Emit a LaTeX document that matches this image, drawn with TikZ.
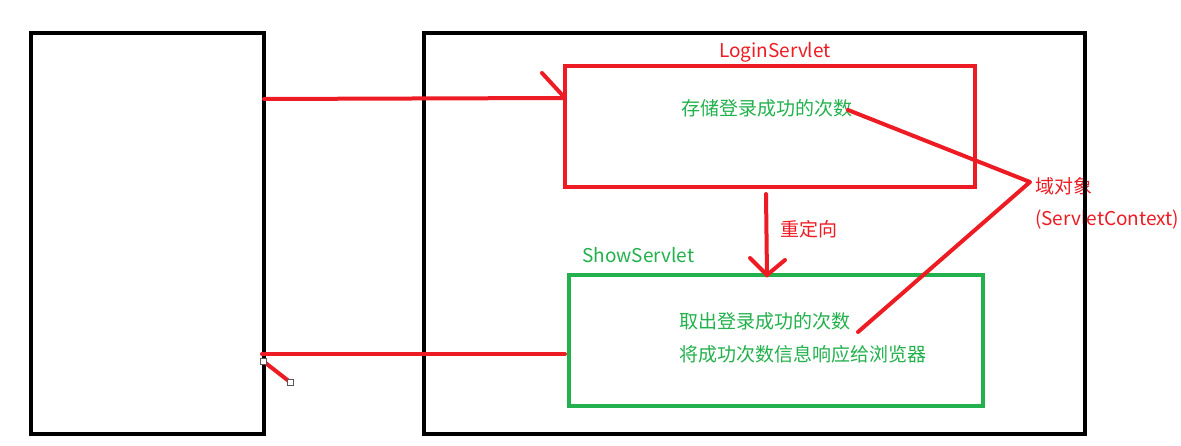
\documentclass[tikz,border=0pt]{standalone}
\usepackage{fontspec}
\setmainfont{Noto Sans CJK SC}
\definecolor{pred}{RGB}{237,28,36}
\definecolor{pgreen}{RGB}{34,177,76}
\begin{document}
\begin{tikzpicture}[x=1pt,y=-1pt,
  blk/.style={draw=black,line width=4.5pt},
  rbox/.style={draw=pred,line width=4pt},
  gbox/.style={draw=pgreen,line width=4pt},
  rline/.style={draw=pred,line width=4pt,line cap=round},
  txt/.style={inner sep=0pt,anchor=west,font=\fontsize{19}{21}\selectfont},
  gtxt/.style={txt,text=pgreen},
  rtxt/.style={txt,text=pred},
  handle/.style={draw=gray!70!black,fill=white,line width=0.8pt,minimum size=6pt,inner sep=0pt}]
\useasboundingbox (0,0) rectangle (1181,446);
\fill[white] (0,0) rectangle (1181,446);
% boxes
\node[blk,minimum width=233pt,minimum height=401pt,inner sep=0pt] (browser) at (147.5,233.5) {};
\node[rbox,minimum width=410pt,minimum height=121pt,inner sep=0pt] (login) at (770,126.5) {};
\node[gbox,minimum width=414pt,minimum height=131pt,inner sep=0pt] (show) at (776,340.5) {};
% labels
\node[rtxt] (loginlbl) at (719,52) {LoginServlet};
\node[gtxt] (store) at (681,108) {存储登录成功的次数};
\node[rtxt] (redir) at (780,229) {重定向};
\node[gtxt] (showlbl) at (582,255) {ShowServlet};
\node[gtxt] (take) at (679,321) {取出登录成功的次数};
\node[gtxt] (resp) at (679,354) {将成功次数信息响应给浏览器};
\node[rtxt] (domain) at (1035,186) {域对象};
\node[rtxt] (ctx) at (1035,220) {(ServletContext)};
% server box drawn on top of texts
\node[blk,minimum width=661pt,minimum height=401pt,inner sep=0pt] (server) at (754.5,233.5) {};
% connectors
\coordinate (a1s) at (264,99);
\coordinate (a1m) at (413,98.5);
\coordinate (a1e) at (565,98);
\coordinate (a1b) at (542,73);
\draw[rline] (a1s) -- (a1m) -- (a1e);
\draw[rline] (a1b) -- (a1e);
\coordinate (a2s) at (766,194);
\coordinate (a2e) at (767,275);
\coordinate (a2l) at (750,258);
\coordinate (a2r) at (785,260);
\draw[rline] (a2s) -- (a2e);
\draw[rline] (a2l) -- (a2e) -- (a2r);
\coordinate (a3s) at (565,354);
\coordinate (a3e) at (262,354);
\draw[rline] (a3s) -- (a3e);
\coordinate (b1) at (263,361);
\coordinate (b2) at (290,382);
\draw[rline] (b1) -- (b2);
\node[handle] (h1) at (b1) {};
\node[handle] (h2) at (b2) {};
\coordinate (k1) at (848,110);
\coordinate (k2) at (1030,182);
\coordinate (k3) at (858,332);
\draw[rline,line join=round] (k1) -- (k2) -- (k3);
\end{tikzpicture}
\end{document}
